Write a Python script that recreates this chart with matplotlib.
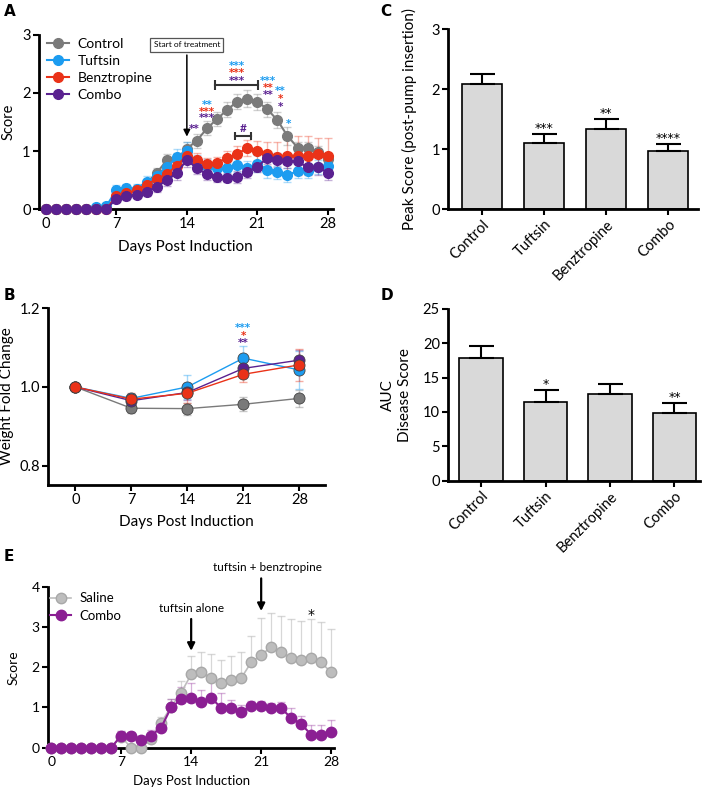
import numpy as np
import matplotlib
matplotlib.use("Agg")
import matplotlib.pyplot as plt

plt.rcParams['font.family'] = ['Lato', 'DejaVu Sans']

# ---------------- data ----------------
days = np.arange(29)

# A: clinical score, daily
ctrl   = [0, 0, 0, 0, 0, 0, 0.02, 0.22, 0.27, 0.33, 0.45, 0.62, 0.84, 0.87, 1.04,
          1.18, 1.39, 1.55, 1.71, 1.85, 1.90, 1.85, 1.72, 1.53, 1.26, 1.06, 1.06, 0.99, 0.87]
tuft   = [0, 0, 0, 0, 0, 0.04, 0.05, 0.33, 0.36, 0.35, 0.47, 0.57, 0.73, 0.89, 1.00,
          0.81, 0.75, 0.70, 0.70, 0.76, 0.70, 0.78, 0.68, 0.63, 0.59, 0.65, 0.65, 0.72, 0.74]
benz   = [0, 0, 0, 0, 0, 0, 0, 0.22, 0.27, 0.33, 0.42, 0.52, 0.60, 0.75, 0.92,
          0.84, 0.78, 0.80, 0.88, 0.95, 1.05, 1.00, 0.95, 0.90, 0.92, 0.92, 0.92, 0.95, 0.92]
combo  = [0, 0, 0, 0, 0, 0, 0, 0.18, 0.22, 0.25, 0.30, 0.38, 0.50, 0.62, 0.85,
          0.70, 0.60, 0.56, 0.54, 0.55, 0.64, 0.73, 0.88, 0.85, 0.83, 0.82, 0.72, 0.73, 0.62]
ctrl_err  = [0, 0, 0, 0, 0, 0, 0.02, 0.05, 0.06, 0.06, 0.07, 0.08, 0.10, 0.10, 0.12,
             0.12, 0.12, 0.12, 0.13, 0.13, 0.15, 0.14, 0.13, 0.14, 0.15, 0.10, 0.10, 0.10, 0.10]
tuft_err  = [0, 0, 0, 0, 0, 0.03, 0.04, 0.08, 0.08, 0.08, 0.10, 0.10, 0.13, 0.15, 0.15,
             0.12, 0.12, 0.10, 0.10, 0.12, 0.12, 0.15, 0.15, 0.12, 0.12, 0.12, 0.12, 0.12, 0.12]
benz_err  = [0, 0, 0, 0, 0, 0, 0, 0.06, 0.06, 0.07, 0.08, 0.10, 0.10, 0.12, 0.12,
             0.12, 0.10, 0.10, 0.12, 0.14, 0.14, 0.17, 0.20, 0.25, 0.30, 0.34, 0.34, 0.28, 0.30]
combo_err = [0, 0, 0, 0, 0, 0, 0, 0.05, 0.06, 0.06, 0.07, 0.08, 0.10, 0.12, 0.12,
             0.10, 0.10, 0.10, 0.08, 0.10, 0.10, 0.10, 0.10, 0.12, 0.12, 0.12, 0.12, 0.15, 0.12]

# B: weight fold change, weekly
wk_days   = [0, 7, 14, 21, 28]
w_ctrl    = [1.0, 0.946, 0.945, 0.956, 0.971]
w_tuft    = [1.0, 0.971, 1.000, 1.073, 1.043]
w_benz    = [1.0, 0.969, 0.984, 1.032, 1.056]
w_combo   = [1.0, 0.965, 0.986, 1.047, 1.068]
w_ctrl_e  = [0, 0.012, 0.015, 0.018, 0.022]
w_tuft_e  = [0, 0.012, 0.030, 0.030, 0.048]
w_benz_e  = [0, 0.015, 0.025, 0.020, 0.040]
w_combo_e = [0, 0.012, 0.020, 0.020, 0.025]

# C / D: bar summaries
groups    = ['Control', 'Tuftsin', 'Benztropine', 'Combo']
peak      = [2.09, 1.10, 1.33, 0.97]
peak_err  = [0.16, 0.15, 0.17, 0.12]
peak_sig  = ['', '***', '**', '****']
auc       = [17.9, 11.4, 12.6, 9.9]
auc_err   = [1.7, 1.8, 1.5, 1.4]
auc_sig   = ['', '*', '', '**']

# E: saline vs combo
saline     = [0, 0, 0, 0, 0, 0, 0, 0.27, 0, 0, 0.22, 0.62, 1.02, 1.37, 1.82,
              1.88, 1.73, 1.61, 1.69, 1.73, 2.12, 2.31, 2.50, 2.37, 2.23, 2.17, 2.23, 2.12, 1.87]
saline_err = [0, 0, 0, 0, 0, 0, 0, 0.15, 0, 0, 0.10, 0.15, 0.20, 0.30, 0.45,
              0.50, 0.60, 0.56, 0.60, 0.65, 0.67, 0.91, 0.86, 0.90, 0.97, 0.97, 0.97, 1.00, 1.08]
combo_e    = [0, 0, 0, 0, 0, 0, 0, 0.30, 0.30, 0.20, 0.30, 0.50, 1.00, 1.20, 1.24,
              1.14, 1.24, 0.99, 0.99, 0.89, 1.04, 1.04, 0.99, 0.98, 0.74, 0.59, 0.32, 0.32, 0.38]
combo_e_err = [0, 0, 0, 0, 0, 0, 0, 0.12, 0.10, 0.10, 0.15, 0.10, 0.20, 0.30, 0.36,
               0.30, 0.50, 0.38, 0.20, 0.17, 0.12, 0.12, 0.12, 0.15, 0.25, 0.20, 0.25, 0.25, 0.32]

GRAY, BLUE, RED, PURPLE = '#7a7a7a', '#1c9cf0', '#ea3218', '#5a2190'
LGRAY, MAGENTA = '#bdbdbd', '#8b1f93'


def style(ax):
    for s in ['top', 'right']:
        ax.spines[s].set_visible(False)
    for s in ['left', 'bottom']:
        ax.spines[s].set_linewidth(2)
    ax.tick_params(width=1.5, length=4, labelsize=10.5, pad=2)


fig = plt.figure(figsize=(7.08, 7.92), dpi=100)
star_kw = dict(ha='center', va='center', fontsize=7.5, fontweight='bold', family='DejaVu Sans')

# ---------------- A ----------------
axA = fig.add_axes([0.055, 0.736, 0.415, 0.22])
style(axA)
for y, e, c, lab in [(ctrl, ctrl_err, GRAY, 'Control'), (tuft, tuft_err, BLUE, 'Tuftsin'),
                     (benz, benz_err, RED, 'Benztropine'), (combo, combo_err, PURPLE, 'Combo')]:
    axA.errorbar(days, y, yerr=e, fmt='none', ecolor=c, alpha=0.35, elinewidth=1, capsize=3,
                 clip_on=False)
    axA.plot(days, y, '-o', color=c, lw=1.5, ms=7, label=lab, clip_on=False, zorder=3)
axA.set_xlim(-0.7, 28.5)
axA.set_ylim(0, 3)
axA.set_xticks([0, 7, 14, 21, 28])
axA.set_yticks([0, 1, 2, 3])
axA.set_xlabel('Days Post Induction', fontsize=11, labelpad=6)
axA.set_ylabel('Score', fontsize=10.5, labelpad=5)
axA.legend(loc='upper left', bbox_to_anchor=(0.0, 1.03), frameon=False, fontsize=10,
           handlelength=1.6, handletextpad=0.6, labelspacing=0.35, borderaxespad=0.2)

axA.text(14, 2.83, 'Start of treatment', ha='center', va='center', fontsize=6,
         bbox=dict(boxstyle='square,pad=0.4', fc='white', ec='#555555', lw=0.9))
axA.annotate('', xy=(14, 1.2), xytext=(14, 2.7),
             arrowprops=dict(arrowstyle='-|>', color='black', lw=1.1, mutation_scale=10))

axA.text(14.7, 1.38, '**', color=PURPLE, **star_kw)
for yy, s, c in [(1.80, '**', BLUE), (1.68, '***', RED), (1.56, '***', PURPLE)]:
    axA.text(16, yy, s, color=c, **star_kw)
for yy, s, c in [(2.47, '***', BLUE), (2.34, '***', RED), (2.21, '***', PURPLE)]:
    axA.text(19, yy, s, color=c, **star_kw)
axA.plot([16.8, 21.1], [2.13, 2.13], color='#333333', lw=1.5, marker='|', ms=7, mew=1.5)
for yy, s, c in [(2.20, '***', BLUE), (2.08, '**', RED), (1.97, '**', PURPLE)]:
    axA.text(22.1, yy, s, color=c, **star_kw)
for yy, s, c in [(2.03, '**', BLUE), (1.89, '*', RED), (1.76, '*', PURPLE)]:
    axA.text(23.3, yy, s, color=c, **star_kw)
axA.text(24.1, 1.47, '*', color=BLUE, **star_kw)
axA.text(19.6, 1.38, '#', color=PURPLE, ha='center', va='center', fontsize=8.5, fontweight='bold')
axA.plot([18.8, 20.4], [1.25, 1.25], color='#333333', lw=1.5, marker='|', ms=6, mew=1.5)

# ---------------- B ----------------
axB = fig.add_axes([0.068, 0.388, 0.391, 0.223])
style(axB)
for y, e, c in [(w_ctrl, w_ctrl_e, GRAY), (w_tuft, w_tuft_e, BLUE),
                (w_combo, w_combo_e, PURPLE), (w_benz, w_benz_e, RED)]:
    axB.errorbar(wk_days, y, yerr=e, fmt='none', ecolor=c, alpha=0.4, elinewidth=1, capsize=3)
    axB.plot(wk_days, y, '-o', color=c, lw=1, ms=8, mec='#444444', mew=0.6, zorder=3)
axB.set_xlim(-3.4, 31.2)
axB.set_ylim(0.752, 1.2)
axB.set_xticks(wk_days)
axB.set_yticks([0.8, 1.0, 1.2])
axB.set_yticklabels(['0.8', '1.0', '1.2'])
axB.set_xlabel('Days Post Induction', fontsize=11, labelpad=6)
axB.set_ylabel('Weight Fold Change', fontsize=11, labelpad=4)
for yy, s, c in [(1.150, '***', BLUE), (1.130, '*', RED), (1.111, '**', PURPLE)]:
    axB.text(21, yy, s, color=c, **star_kw)

# ---------------- C ----------------
xg = np.arange(len(groups))
axC = fig.add_axes([0.633, 0.736, 0.353, 0.227])
style(axC)
axC.bar(xg, peak, width=0.65, color='#d9d9d9', edgecolor='black', lw=1.2)
axC.errorbar(xg, peak, yerr=[np.zeros(4), peak_err], fmt='none', ecolor='black',
             elinewidth=1.5, capsize=9, capthick=1.5)
for x, v, e, s in zip(xg, peak, peak_err, peak_sig):
    axC.text(x, v + e + 0.09, s, ha='center', va='center', fontsize=9, family='DejaVu Sans')
axC.set_xlim(-0.55, 3.48)
axC.set_ylim(0, 3)
axC.set_yticks([0, 1, 2, 3])
axC.set_xticks(xg)
axC.set_xticklabels(groups, rotation=45, ha='right', rotation_mode='anchor')
axC.set_ylabel('Peak Score (post-pump insertion)', fontsize=11, labelpad=10)

# ---------------- D ----------------
axD = fig.add_axes([0.633, 0.393, 0.356, 0.217])
style(axD)
axD.bar(xg, auc, width=0.67, color='#d9d9d9', edgecolor='black', lw=1.2)
axD.errorbar(xg, auc, yerr=[np.zeros(4), auc_err], fmt='none', ecolor='black',
             elinewidth=1.5, capsize=9, capthick=1.5)
for x, v, e, s in zip(xg, auc, auc_err, auc_sig):
    axD.text(x, v + e + 0.8, s, ha='center', va='center', fontsize=9, family='DejaVu Sans')
axD.set_xlim(-0.51, 3.4)
axD.set_ylim(0, 25)
axD.set_yticks([0, 5, 10, 15, 20, 25])
axD.set_xticks(xg)
axD.set_xticklabels(groups, rotation=45, ha='right', rotation_mode='anchor')
axD.set_ylabel('AUC\nDisease Score', fontsize=11, labelpad=8)

# ---------------- E ----------------
axE = fig.add_axes([0.068, 0.056, 0.404, 0.203])
style(axE)
zeros = np.zeros(len(days))
axE.errorbar(days, saline, yerr=[zeros, saline_err], fmt='none', ecolor=LGRAY, alpha=0.6,
             elinewidth=0.9, capsize=3, clip_on=False)
axE.errorbar(days, combo_e, yerr=[zeros, combo_e_err], fmt='none', ecolor=MAGENTA, alpha=0.35,
             elinewidth=0.9, capsize=3, clip_on=False)
axE.plot(days, saline, '-o', color=LGRAY, mec='#a8a8a8', lw=1.2, ms=7.5, label='Saline',
         clip_on=False, zorder=3)
axE.plot(days, combo_e, '-o', color=MAGENTA, lw=1.5, ms=7.5, label='Combo', clip_on=False,
         zorder=4)
axE.set_xlim(-0.3, 28.3)
axE.set_ylim(0, 4)
axE.set_xticks([0, 7, 14, 21, 28])
axE.set_yticks([0, 1, 2, 3, 4])
axE.tick_params(labelsize=10)
axE.set_xlabel('Days Post Induction', fontsize=9.5, labelpad=5)
axE.set_ylabel('Score', fontsize=10, labelpad=9)
axE.legend(loc='upper left', bbox_to_anchor=(-0.035, 1.04), frameon=False, fontsize=9.5,
           handlelength=1.6, handletextpad=0.6, labelspacing=0.4)
axE.text(14, 3.45, 'tuftsin alone', ha='center', va='center', fontsize=8.5)
axE.annotate('', xy=(14, 2.34), xytext=(14, 3.27),
             arrowprops=dict(arrowstyle='-|>', color='black', lw=1.6, mutation_scale=11))
axE.text(21.6, 4.48, 'tuftsin + benztropine', ha='center', va='center', fontsize=8.5,
         clip_on=False)
axE.annotate('', xy=(21, 3.33), xytext=(21, 4.28),
             arrowprops=dict(arrowstyle='-|>', color='black', lw=1.6, mutation_scale=11),
             annotation_clip=False)
axE.text(26, 3.3, '*', ha='center', va='center', fontsize=10, family='DejaVu Sans')

# panel letters
for x, y, s in [(0.005, 0.985, 'A'), (0.005, 0.627, 'B'), (0.537, 0.985, 'C'),
                (0.537, 0.627, 'D'), (0.005, 0.297, 'E')]:
    fig.text(x, y, s, fontsize=11, fontweight='bold', family='DejaVu Sans', va='center')

fig.savefig('out.png', dpi=100)
